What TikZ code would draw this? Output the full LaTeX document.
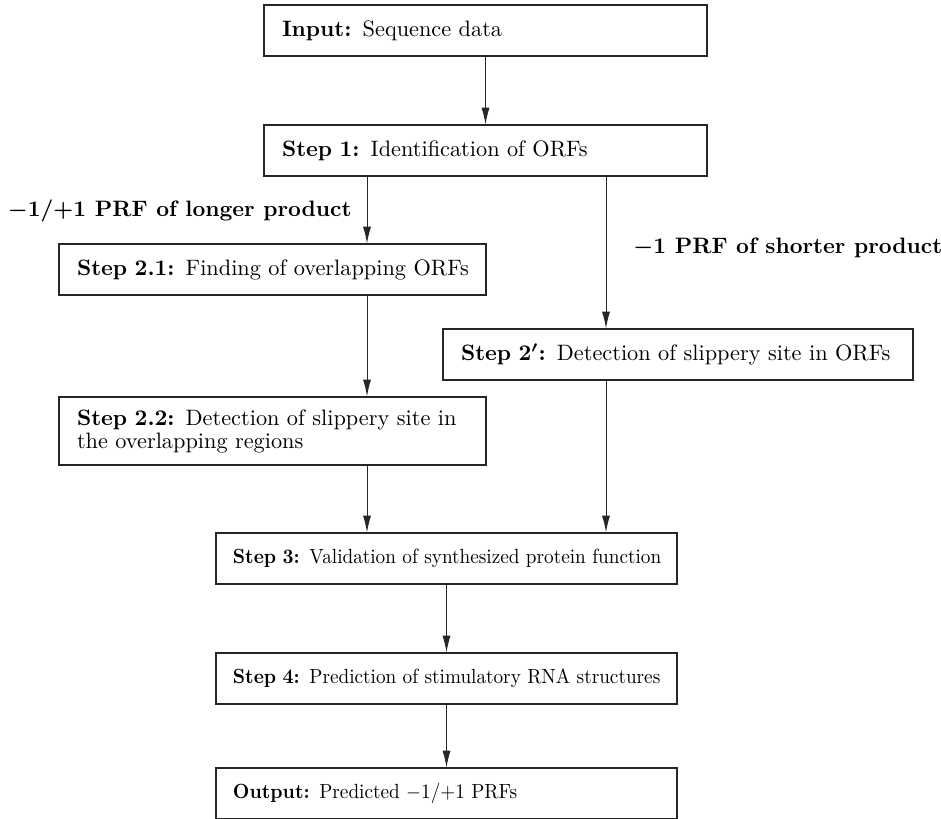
\documentclass[tikz,border=0pt]{standalone}
\usepackage{graphicx}
\usetikzlibrary{arrows.meta}
\newcommand{\smalltxt}[1]{\scalebox{0.862}[0.92]{#1}}
\begin{document}
\begin{tikzpicture}[x=0.4484pt,y=-0.4484pt,
  box/.style={draw=black!85, line width=0.5pt, rectangle, inner xsep=8.07pt, inner ysep=0pt,
    minimum height=22.87pt, align=left, anchor=center, font=\fontsize{10}{10.3}\selectfont},
  wA/.style={text width=182.5pt},
  wB/.style={text width=175.3pt},
  wC/.style={text width=194.6pt},
  wD/.style={text width=191.5pt, inner xsep=7.6pt},
  lbl/.style={inner sep=0pt, font=\bfseries\boldmath},
  arr/.style={draw=black!85, line width=0.45pt, -{Latex[length=7.5pt,width=3.6pt]}}]
\useasboundingbox (0,0) rectangle (941,818);
\clip (0,0) rectangle (941,818);
\coordinate (xa) at (367,0);
\coordinate (xb) at (606,0);
\node[box,wA] (in)  at (485.5,30.5)  {\mbox{\textbf{Input:} Sequence data}};
\node[box,wA] (s1)  at (485.5,150.5) {\mbox{\textbf{Step 1:} Identification of ORFs}};
\node[box,wB] (s21) at (272.5,269.5) {\mbox{\textbf{Step 2.1:} Finding of overlapping ORFs}};
\node[box,wC] (s2p) at (678,354.5)   {\mbox{{\bfseries\boldmath Step 2$'$:} Detection of slippery site in ORFs}};
\node[box,wB,minimum height=30.5pt] (s22) at (272.5,431) {\mbox{\textbf{Step 2.2:} Detection of slippery site in}\\the overlapping regions};
\node[box,wD] (s3)  at (446.5,558.5) {\smalltxt{\textbf{Step 3:} Validation of synthesized protein function}};
\node[box,wD] (s4)  at (446.5,678.5) {\smalltxt{\textbf{Step 4:} Prediction of stimulatory RNA structures}};
\node[box,wD] (out) at (446.5,793.5) {\smalltxt{\textbf{Output:} Predicted $-1/{+}1$ PRFs}};
\node[lbl,anchor=base east] (l1) at (352,216) {$-1/{+}1$ PRF of longer product};
\node[lbl,anchor=base west] (l2) at (633,253) {$-1$ PRF of shorter product};
\draw[arr] (in) -- (s1);
\draw[arr] (s1.south -| xa) -- (s21.north -| xa);
\draw[arr] (s1.south -| xb) -- (s2p.north -| xb);
\draw[arr] (s21.south -| xa) -- (s22.north -| xa);
\draw[arr] (s22.south -| xa) -- (s3.north -| xa);
\draw[arr] (s2p.south -| xb) -- (s3.north -| xb);
\draw[arr] (s3) -- (s4);
\draw[arr] (s4) -- (out);
\end{tikzpicture}
\end{document}
